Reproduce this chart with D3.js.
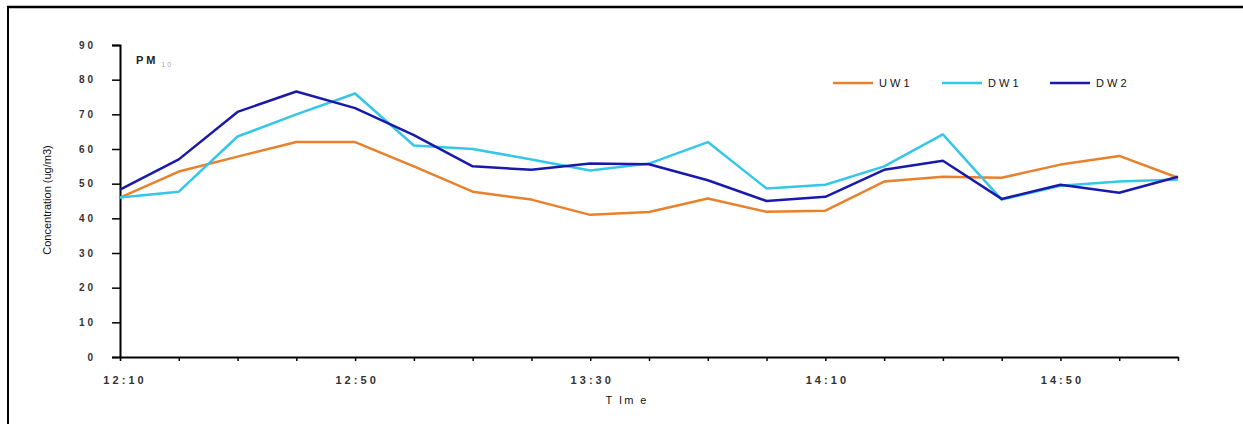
<!DOCTYPE html>
<html>
<head>
<meta charset="utf-8">
<script src="https://cdn.jsdelivr.net/npm/d3@7"></script>
<style>
  html, body { margin: 0; padding: 0; background: #fff; }
  svg { display: block; }
</style>
</head>
<body>
<svg id="chart" width="1243" height="424"></svg>
<script>
const times = ["12:10","12:20","12:30","12:40","12:50","13:00","13:10","13:20","13:30","13:40",
               "13:50","14:00","14:10","14:20","14:30","14:40","14:50","15:00","15:10"];
const uw1 = [46.0,53.5,57.8,62.0,62.0,55.0,47.7,45.4,41.0,41.8,45.7,41.9,42.2,50.6,52.0,51.7,55.5,58.0,51.7];
const dw1 = [46.0,47.7,63.6,70.0,76.0,61.0,60.0,57.0,53.8,55.8,62.0,48.6,49.7,55.0,64.2,45.4,49.4,50.6,51.2];
const dw2 = [48.3,57.0,70.7,76.6,71.8,64.0,55.0,54.0,55.8,55.6,51.0,45.0,46.2,54.0,56.6,45.6,49.7,47.4,52.0];
const seriesNames = ["U W 1","D W 1","D W 2"];
const seriesColors = ["#E8802C","#35C6EA","#1A1AAA"];
const yTicks = [0,10,20,30,40,50,60,70,80,90];
const xLabelTimes = ["12:10","12:50","13:30","14:10","14:50"];

const svg = d3.select("#chart");
const font = "Liberation Sans, Arial, sans-serif";

// frame
svg.append("line").attr("x1",7).attr("x2",1243).attr("y1",7).attr("y2",7)
  .attr("stroke","#000").attr("stroke-width",2.5);
svg.append("line").attr("x1",8).attr("x2",8).attr("y1",7).attr("y2",424)
  .attr("stroke","#000").attr("stroke-width",2);

const x = d3.scalePoint().domain(times).range([120, 1178]);
const y = d3.scaleLinear().domain([0, 90]).range([357, 45]);

// y axis
const yAxis = svg.append("g").attr("transform","translate(120,0)")
  .call(d3.axisLeft(y).tickValues(yTicks).tickSize(8).tickPadding(18)
        .tickFormat(d => String(d).split("").join(" ")));
yAxis.select(".domain").attr("stroke","#000").attr("stroke-width",2);
yAxis.selectAll(".tick line").attr("stroke","#000").attr("stroke-width",1.5);
yAxis.selectAll(".tick text").attr("font-family",font).attr("font-size",10)
  .attr("font-weight","bold").attr("fill","#333").attr("dx",-1);

// x axis
const xAxis = svg.append("g").attr("transform","translate(0,357)")
  .call(d3.axisBottom(x).tickSize(4).tickSizeOuter(0).tickPadding(15)
        .tickFormat(d => xLabelTimes.includes(d) ? d.split("").join(" ") : ""));
xAxis.select(".domain").attr("stroke","#000").attr("stroke-width",2);
xAxis.selectAll(".tick line").attr("stroke","#000").attr("stroke-width",1.5);
xAxis.selectAll(".tick text").attr("font-family",font).attr("font-size",11)
  .attr("font-weight","bold").attr("fill","#333");
xAxis.selectAll(".tick").filter(d => d === "12:10").select("text").attr("dx", 3);

// axis titles
svg.append("text").attr("transform","translate(51,200) rotate(-90)")
  .attr("text-anchor","middle").attr("font-family",font).attr("font-size",11)
  .attr("fill","#111").text("Concentration (ug/m3)");
svg.append("text").attr("x",627).attr("y",404).attr("text-anchor","middle")
  .attr("font-family",font).attr("font-size",11).attr("fill","#111")
  .attr("letter-spacing","2").text("T Im e");

// PM10 label
const pm = svg.append("text").attr("x",136).attr("y",64).attr("font-family",font)
  .attr("font-size",11).attr("font-weight","bold").attr("fill","#222");
pm.append("tspan").text("P M");
pm.append("tspan").attr("dx",6).attr("dy",3).attr("font-size",7).attr("fill","#aaa")
  .attr("font-weight","normal").text("1 0");

// lines
const allSeries = [uw1, dw1, dw2];
const line = d3.line().x((d,i) => x(times[i])).y(d => y(d));
allSeries.forEach((s, k) => {
  svg.append("path").datum(s).attr("d", line).attr("fill","none")
    .attr("stroke", seriesColors[k]).attr("stroke-width", 2.5)
    .attr("stroke-linejoin","round");
});

// legend
const legendX = [833, 942, 1050];
seriesNames.forEach((n, k) => {
  const g = svg.append("g").attr("transform", `translate(${legendX[k]},83)`);
  g.append("line").attr("x1",0).attr("x2",40).attr("y1",0).attr("y2",0)
    .attr("stroke", seriesColors[k]).attr("stroke-width",2.5);
  g.append("text").attr("x",46).attr("y",4).attr("font-family",font)
    .attr("font-size",11).attr("fill","#111").text(n);
});
</script>
</body>
</html>
